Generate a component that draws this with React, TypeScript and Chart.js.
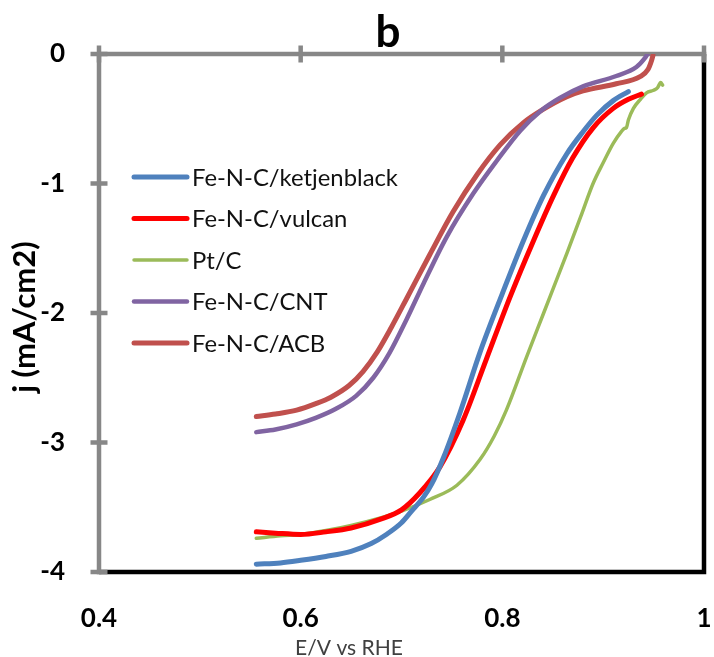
import React, { useEffect, useRef } from "react";
import { Chart, registerables } from "chart.js";

Chart.register(...registerables);

// ---- Data ----
const xTickValues = [0.4, 0.6, 0.8, 1];
const yTickValues = [0, -1, -2, -3, -4];
const seriesNames = ["Fe-N-C/ketjenblack", "Fe-N-C/vulcan", "Pt/C", "Fe-N-C/CNT", "Fe-N-C/ACB"];
const seriesColors = ["#4F81BD", "#FF0000", "#9BBB59", "#8064A2", "#C0504D"];
const seriesWidths = [5, 5, 3.5, 4.5, 5];

const ketjenE = [0.556, 0.58, 0.6, 0.625, 0.65, 0.67, 0.685, 0.7, 0.71, 0.722, 0.73, 0.742, 0.758, 0.778, 0.8, 0.821, 0.841, 0.864, 0.88, 0.894, 0.91, 0.925];
const ketjenJ = [-3.94, -3.93, -3.91, -3.88, -3.84, -3.78, -3.71, -3.62, -3.53, -3.42, -3.32, -3.11, -2.77, -2.3, -1.85, -1.44, -1.09, -0.77, -0.6, -0.47, -0.36, -0.29];

const vulcanE = [0.556, 0.575, 0.6, 0.625, 0.65, 0.68, 0.7, 0.718, 0.738, 0.761, 0.784, 0.808, 0.831, 0.851, 0.87, 0.89, 0.91, 0.925, 0.938];
const vulcanJ = [-3.69, -3.7, -3.71, -3.69, -3.66, -3.59, -3.52, -3.39, -3.19, -2.83, -2.36, -1.87, -1.44, -1.09, -0.8, -0.57, -0.42, -0.35, -0.31];

const ptcE = [0.556, 0.58, 0.6, 0.625, 0.65, 0.68, 0.7, 0.728, 0.755, 0.778, 0.792, 0.804, 0.824, 0.841, 0.864, 0.878, 0.89, 0.9, 0.91, 0.918, 0.921, 0.923, 0.925, 0.93, 0.937, 0.943, 0.95, 0.954, 0.957, 0.959];
const ptcJ = [-3.74, -3.72, -3.71, -3.68, -3.64, -3.58, -3.53, -3.44, -3.33, -3.13, -2.95, -2.75, -2.34, -2.0, -1.54, -1.25, -1.0, -0.84, -0.69, -0.6, -0.575, -0.57, -0.51, -0.42, -0.35, -0.3, -0.28, -0.26, -0.22, -0.24];

const cntE = [0.556, 0.575, 0.596, 0.615, 0.635, 0.655, 0.672, 0.688, 0.705, 0.722, 0.745, 0.771, 0.794, 0.818, 0.838, 0.857, 0.88, 0.913, 0.933, 0.9415, 0.944];
const cntJ = [-2.92, -2.9, -2.86, -2.81, -2.74, -2.64, -2.5, -2.31, -2.05, -1.77, -1.41, -1.08, -0.83, -0.59, -0.44, -0.34, -0.25, -0.17, -0.1, -0.03, 0.0];

const acbE = [0.556, 0.575, 0.596, 0.615, 0.63, 0.648, 0.662, 0.676, 0.69, 0.705, 0.728, 0.751, 0.775, 0.798, 0.821, 0.84, 0.864, 0.88, 0.913, 0.9366, 0.9444, 0.948, 0.9494];
const acbJ = [-2.8, -2.78, -2.75, -2.7, -2.65, -2.56, -2.45, -2.3, -2.11, -1.89, -1.55, -1.22, -0.93, -0.7, -0.53, -0.43, -0.33, -0.285, -0.23, -0.175, -0.12, -0.05, -0.01];

const seriesE = [ketjenE, vulcanE, ptcE, cntE, acbE];
const seriesJ = [ketjenJ, vulcanJ, ptcJ, cntJ, acbJ];

const titleText = "b";
const xTitle = "E/V vs RHE";
const yTitle = "j (mA/cm2)";

const AXIS_GRAY = "#878787";

// font size so that `text` spans `target` px
function fitSize(ctx: CanvasRenderingContext2D, text: string, style: string, target: number) {
  ctx.font = `${style} 20px Lato`;
  const w = ctx.measureText(text).width || 1;
  return (20 * target) / w;
}

const decorPlugin = {
  id: "decor",
  beforeDatasetsDraw(chart: any) {
    const { ctx, chartArea: a, scales } = chart;
    const x = scales.x;
    const y = scales.y;
    ctx.save();
    ctx.lineCap = "butt";
    ctx.strokeStyle = "#000";
    ctx.lineWidth = 4.5;
    ctx.beginPath();
    ctx.moveTo(a.right, a.top);
    ctx.lineTo(a.right, a.bottom + 2.25);
    ctx.moveTo(a.left, a.bottom);
    ctx.lineTo(a.right + 2.25, a.bottom);
    ctx.stroke();
    ctx.strokeStyle = AXIS_GRAY;
    ctx.beginPath();
    ctx.moveTo(a.left, a.top);
    ctx.lineTo(a.left, a.bottom + 2.25);
    ctx.moveTo(a.left, a.top);
    ctx.lineTo(a.right + 2.25, a.top);
    ctx.stroke();
    ctx.beginPath();
    for (const v of xTickValues) {
      const px = x.getPixelForValue(v);
      ctx.moveTo(px, a.top - 8.5);
      ctx.lineTo(px, a.top + 8.5);
    }
    for (const v of yTickValues) {
      const py = y.getPixelForValue(v);
      ctx.moveTo(a.left - 8.5, py);
      ctx.lineTo(a.left + 8.5, py);
    }
    ctx.stroke();
    ctx.restore();
  },
  afterDraw(chart: any) {
    const { ctx, chartArea: a } = chart;
    ctx.save();
    const ds = chart.data.datasets;
    const legSize = fitSize(ctx, ds[0].label, "normal", 206);
    ctx.font = `normal ${legSize}px Lato`;
    ctx.textAlign = "left";
    ctx.textBaseline = "middle";
    ds.forEach((d: any, i: number) => {
      const ly = a.top + 123 + i * 41.5;
      ctx.strokeStyle = d.borderColor;
      ctx.lineWidth = d.borderWidth;
      ctx.lineCap = "round";
      ctx.beginPath();
      ctx.moveTo(a.left + 35, ly);
      ctx.lineTo(a.left + 88, ly);
      ctx.stroke();
      ctx.fillStyle = "#111";
      ctx.fillText(d.label, a.left + 93, ly + 1);
    });
    ctx.fillStyle = "#000";
    ctx.font = "bold 44px Lato";
    ctx.textAlign = "center";
    ctx.textBaseline = "alphabetic";
    ctx.fillText(titleText, 388, 47);
    const xs = fitSize(ctx, xTitle, "normal", 108);
    ctx.font = `normal ${xs}px Lato`;
    ctx.fillStyle = "#404040";
    ctx.fillText(xTitle, 349, 655);
    ctx.save();
    ctx.translate(25, (a.top + a.bottom) / 2 + 4);
    ctx.rotate(-Math.PI / 2);
    ctx.font = "bold 31px Lato";
    ctx.fillStyle = "#000";
    ctx.textBaseline = "middle";
    ctx.fillText(yTitle, 0, 0);
    ctx.restore();
    ctx.restore();
  },
};

export default function App() {
  const canvasRef = useRef<HTMLCanvasElement | null>(null);

  useEffect(() => {
    if (!canvasRef.current) return;
    const datasets = seriesNames.map((name, i) => ({
      label: name,
      data: seriesE[i].map((e, k) => ({ x: e, y: seriesJ[i][k] })),
      borderColor: seriesColors[i],
      backgroundColor: seriesColors[i],
      borderWidth: seriesWidths[i],
      pointRadius: 0,
      fill: false,
      cubicInterpolationMode: "monotone" as const,
      borderCapStyle: "round" as const,
      borderJoinStyle: "round" as const,
    }));
    const tickFont = { family: "Lato", size: 26, weight: "bold" as const };
    const chart = new Chart(canvasRef.current, {
      type: "line",
      data: { datasets },
      plugins: [decorPlugin],
      options: {
        animation: false,
        responsive: false,
        devicePixelRatio: 1,
        layout: { padding: { top: 54, right: 10, left: 0, bottom: 0 } },
        plugins: {
          legend: { display: false },
          title: { display: false },
          tooltip: { enabled: false },
        },
        scales: {
          x: {
            type: "linear",
            position: "bottom",
            min: 0.4,
            max: 1,
            afterBuildTicks: (scale: any) => {
              scale.ticks = xTickValues.map((v) => ({ value: v }));
            },
            afterFit: (scale: any) => {
              scale.height = 85;
              scale.paddingLeft = 0;
              scale.paddingRight = 0;
            },
            grid: { display: false },
            border: { display: false },
            ticks: {
              font: tickFont,
              color: "#000",
              padding: 23,
              maxRotation: 0,
              callback: (v: any) => String(Number(Number(v).toFixed(1))),
            },
          },
          y: {
            type: "linear",
            min: -4,
            max: 0,
            afterBuildTicks: (scale: any) => {
              scale.ticks = yTickValues.map((v) => ({ value: v }));
            },
            afterFit: (scale: any) => {
              scale.width = 99;
              scale.paddingTop = 0;
              scale.paddingBottom = 0;
            },
            grid: { display: false },
            border: { display: false },
            ticks: {
              font: tickFont,
              color: "#000",
              padding: 26,
              callback: (v: any) => String(v),
            },
          },
        },
      },
    });
    let alive = true;
    if ((document as any).fonts && (document as any).fonts.ready) {
      (document as any).fonts.ready.then(() => {
        if (alive) chart.update();
      });
    }
    return () => {
      alive = false;
      chart.destroy();
    };
  }, []);

  return (
    <div style={{ position: "fixed", left: 0, top: 0, width: 714, height: 657, background: "#fff" }}>
      <canvas ref={canvasRef} width={714} height={657} style={{ display: "block", width: 714, height: 657 }} />
    </div>
  );
}
